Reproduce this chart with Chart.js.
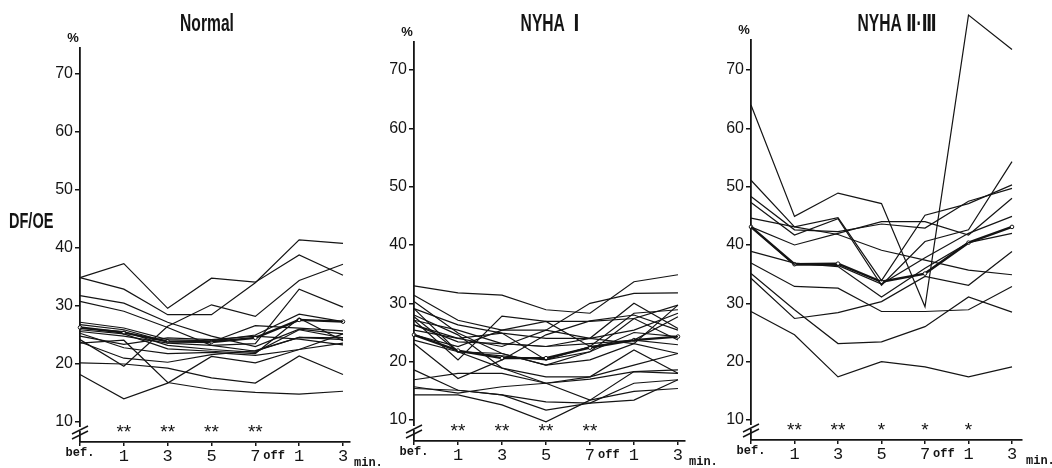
<!DOCTYPE html>
<html>
<head>
<meta charset="utf-8">
<script src="https://cdn.jsdelivr.net/npm/chart.js@4.4.1/dist/chart.umd.min.js"></script>
<style>
  html, body { margin: 0; padding: 0; background: #fff; }
  body { width: 1052px; height: 468px; position: relative; overflow: hidden; }
  .panel { position: absolute; top: 0; }
  #dfoe { position: absolute; left: 9px; top: 208px; color: #141414; transform: scaleX(0.66); transform-origin: 0 0;
          font: bold 22px "Liberation Sans Narrow", "Liberation Sans", sans-serif; }
</style>
</head>
<body>
<canvas id="normal" class="panel" style="left:0" width="390" height="468"></canvas>
<canvas id="nyha1" class="panel" style="left:340px" width="390" height="468"></canvas>
<canvas id="nyha23" class="panel" style="left:690px" width="362" height="468"></canvas>
<div id="dfoe">DF/OE</div>
<script>
// time points: before, 1/3/5/7 min of exercise, 1/3 min after "off"
const timeLabels = ["bef.", "1", "3", "5", "7", "1", "3"];
const yTickValues = [10, 20, 30, 40, 50, 60, 70];

// Normal --------
const normalLines = [
  [34.9, 37.3, 29.6, 34.8, 34.1, 38.8, 35.3],
  [34.9, 32.9, 28.5, 28.5, 34.0, 41.4, 40.8],
  [31.8, 30.5, 27.2, 24.8, 23.0, 26.0, 25.2],
  [30.8, 29.1, 26.3, 23.2, 22.2, 24.6, 24.2],
  [24.2, 19.6, 26.5, 30.2, 28.2, 34.4, 37.2],
  [25.6, 24.8, 23.6, 23.2, 23.5, 32.9, 29.8],
  [20.2, 20.0, 19.3, 17.6, 16.7, 21.4, 18.2],
  [18.2, 14.0, 16.7, 21.3, 20.2, 22.5, 23.6],
  [23.6, 24.1, 16.8, 15.6, 15.1, 14.8, 15.3],
  [27.2, 26.2, 24.2, 24.0, 25.0, 28.6, 27.3],
  [26.8, 25.9, 23.8, 23.8, 26.6, 26.2, 25.7],
  [26.2, 25.6, 23.2, 22.5, 22.0, 25.9, 24.5],
  [25.9, 25.2, 22.6, 22.2, 21.8, 27.9, 24.0],
  [24.8, 23.4, 24.5, 24.2, 24.8, 24.3, 23.3],
  [25.3, 22.8, 21.8, 22.0, 21.5, 22.5, 25.2],
  [23.8, 21.0, 20.3, 21.6, 22.3, 24.6, 24.5]
];
const normalMean = [26.3, 25.4, 23.9, 23.8, 24.5, 27.6, 27.3];
const normalStars = ["", "**", "**", "**", "**", "", ""];

// NYHA I --------
const nyha1Lines = [
  [33.0, 31.8, 31.4, 28.9, 28.3, 33.7, 34.9],
  [31.4, 27.1, 25.4, 25.4, 30.0, 31.7, 31.8],
  [30.3, 24.9, 21.4, 19.4, 21.7, 27.4, 29.7],
  [29.1, 26.3, 24.9, 24.0, 24.0, 30.0, 25.7],
  [27.1, 20.3, 27.8, 26.9, 26.9, 27.4, 23.7],
  [27.7, 21.7, 21.0, 20.3, 22.6, 28.3, 28.9],
  [26.3, 23.4, 23.1, 22.6, 24.0, 23.1, 29.7],
  [25.4, 24.0, 22.6, 25.4, 24.0, 25.4, 28.3],
  [24.6, 22.6, 25.4, 26.9, 22.6, 23.7, 22.9],
  [23.1, 17.1, 20.3, 24.6, 27.0, 28.0, 25.4],
  [29.1, 21.7, 18.9, 17.4, 17.4, 19.4, 21.4],
  [28.0, 24.6, 18.9, 16.3, 13.4, 18.3, 18.6],
  [16.9, 18.0, 18.0, 16.3, 17.4, 22.0, 18.0],
  [18.6, 15.1, 14.3, 13.1, 12.9, 16.3, 16.9],
  [15.7, 14.6, 15.7, 16.3, 17.0, 18.3, 18.0],
  [15.4, 15.1, 14.3, 11.7, 12.9, 13.4, 16.9],
  [14.3, 14.3, 12.6, 9.7, 13.4, 14.9, 15.4],
  [23.7, 21.7, 21.4, 19.4, 20.3, 23.1, 21.4],
  [27.1, 25.4, 23.1, 22.6, 23.1, 23.7, 27.7],
  [26.3, 24.0, 24.9, 20.3, 21.7, 25.0, 24.3]
];
const nyha1Mean = [24.6, 21.9, 20.6, 20.6, 22.4, 23.7, 24.3];
const nyha1Stars = ["", "**", "**", "**", "**", "", ""];

// NYHA II-III --------
const nyha23Lines = [
  [64.0, 44.9, 48.9, 47.1, 29.4, 79.4, 73.5],
  [51.1, 43.1, 44.7, 33.9, 45.1, 47.1, 50.3],
  [48.3, 42.6, 42.3, 43.6, 42.9, 47.5, 49.7],
  [47.3, 41.7, 44.5, 33.1, 40.6, 42.6, 54.3],
  [44.6, 43.1, 41.8, 39.1, 37.4, 35.7, 34.9],
  [43.1, 40.0, 42.0, 44.0, 44.0, 41.7, 48.0],
  [43.1, 36.6, 36.5, 33.3, 37.8, 42.0, 44.9],
  [38.9, 36.9, 36.3, 31.1, 36.0, 40.4, 42.0],
  [36.9, 32.9, 32.6, 28.6, 28.6, 28.9, 32.9],
  [35.1, 28.9, 23.1, 23.4, 26.0, 31.1, 28.5],
  [34.3, 27.4, 28.4, 30.3, 34.6, 33.1, 38.9],
  [28.6, 24.6, 17.4, 20.0, 19.1, 17.4, 19.1]
];
const nyha23Mean = [43.1, 36.7, 36.8, 33.7, 35.1, 40.4, 43.1];
const nyha23Stars = ["", "**", "**", "*", "*", "*", ""];

const INK = "#141414";
const SANS = '"Liberation Sans", "DejaVu Sans", sans-serif';
const MONO = '"Liberation Mono", "DejaVu Sans Mono", monospace';

function toPoints(vals) {
  return vals.map(function(v, i) { return { x: i, y: v }; });
}

const panelText = {
  id: "panelText",
  afterDraw: function(chart, args, opts) {
    const ctx = chart.ctx;
    const a = chart.chartArea;
    const x = chart.scales.x;
    ctx.save();
    ctx.fillStyle = INK;
    ctx.strokeStyle = INK;
    // title, squeezed to look like the condensed original
    ctx.save();
    ctx.translate(opts.titleX, 25);
    ctx.scale(0.68, 1);
    ctx.textAlign = "center";
    ctx.textBaseline = "middle";
    ctx.font = "bold 23px " + SANS;
    ctx.fillText(opts.title, 0, 0);
    ctx.restore();
    // unit
    ctx.textAlign = "center";
    ctx.textBaseline = "middle";
    ctx.font = "bold 13px " + SANS;
    ctx.fillText("%", a.left - 7, a.top - 10);
    // significance marks
    ctx.font = "19px " + SANS;
    ctx.textBaseline = "alphabetic";
    opts.stars.forEach(function(s, i) {
      if (s) ctx.fillText(s, x.getPixelForValue(i), a.bottom - 4);
    });
    // off / min.
    ctx.font = "bold 12px " + MONO;
    ctx.textAlign = "left";
    ctx.fillText("off", x.getPixelForValue(4) + 8, a.bottom + 17);
    ctx.fillText("min.", a.right + 4, a.bottom + 24);
    // axis break
    ctx.fillStyle = "#fff";
    ctx.fillRect(a.left - 2, a.bottom - 15, 4, 4);
    ctx.lineWidth = 1.5;
    [0, 5].forEach(function(d) {
      ctx.beginPath();
      ctx.moveTo(a.left - 8, a.bottom - 8 + d);
      ctx.lineTo(a.left + 8, a.bottom - 16 + d);
      ctx.stroke();
    });
    ctx.restore();
  }
};

function createPanel(id, lines, mean, stars, g) {
  "use strict";
  const datasets = lines.map(function(vals) {
    return {
      data: toPoints(vals),
      borderColor: INK,
      borderWidth: 1.2,
      pointRadius: 0,
      tension: 0,
      clip: false
    };
  });
  datasets.push({
    data: toPoints(mean),
    borderColor: INK,
    borderWidth: 2.4,
    pointRadius: 1.8,
    pointBackgroundColor: "#fff",
    pointBorderColor: INK,
    pointBorderWidth: 1,
    tension: 0,
    clip: false
  });

  const config = {
    type: "line",
    data: { datasets: datasets },
    options: {
      responsive: false,
      animation: false,
      events: [],
      layout: { autoPadding: false, padding: { top: g.top, right: g.padRight, bottom: 0, left: 0 } },
      scales: {
        x: {
          type: "linear",
          min: 0,
          max: g.xMax,
          afterFit: function(s) { s.height = g.xHeight; },
          afterBuildTicks: function(s) {
            s.ticks = timeLabels.map(function(l, i) { return { value: i }; });
          },
          ticks: {
            autoSkip: false,
            maxRotation: 0,
            padding: 0,
            color: INK,
            callback: function(v) { return timeLabels[v]; },
            font: function(c) {
              return c.index === 0
                ? { family: MONO, size: 12, weight: "bold" }
                : { family: MONO, size: 17 };
            }
          },
          grid: { drawOnChartArea: false, drawTicks: true, tickLength: 4, color: INK, lineWidth: 1.5 },
          border: { display: true, color: INK, width: 1.8 }
        },
        y: {
          min: g.yMin,
          max: g.yMax,
          afterFit: function(s) { s.width = g.left; },
          afterBuildTicks: function(s) {
            s.ticks = yTickValues.map(function(v) { return { value: v }; });
          },
          ticks: { color: INK, padding: 2, font: { family: SANS, size: 16 } },
          grid: { drawOnChartArea: false, drawTicks: true, tickLength: 5, color: INK, lineWidth: 1.5 },
          border: { display: true, color: INK, width: 1.8 }
        }
      },
      plugins: {
        legend: { display: false },
        tooltip: { enabled: false },
        panelText: { title: g.title, titleX: g.titleX, stars: stars }
      }
    },
    plugins: [panelText]
  };
  return new Chart(document.getElementById(id), config);
}

createPanel("normal", normalLines, normalMean, normalStars, {
  title: "Normal", titleX: 207, left: 80, padRight: 40, top: 48, xHeight: 26,
  yMin: 6.55, yMax: 74.48, xMax: 6.16
});
createPanel("nyha1", nyha1Lines, nyha1Mean, nyha1Stars, {
  title: "NYHA  Ⅰ", titleX: 210, left: 74, padRight: 45, top: 42, xHeight: 27,
  yMin: 6.4, yMax: 74.8, xMax: 6.16
});
createPanel("nyha23", nyha23Lines, nyha23Mean, nyha23Stars, {
  title: "NYHA Ⅱ·Ⅲ", titleX: 207, left: 61, padRight: 30, top: 40, xHeight: 28,
  yMin: 6.57, yMax: 75.14, xMax: 6.23
});
</script>
</body>
</html>
